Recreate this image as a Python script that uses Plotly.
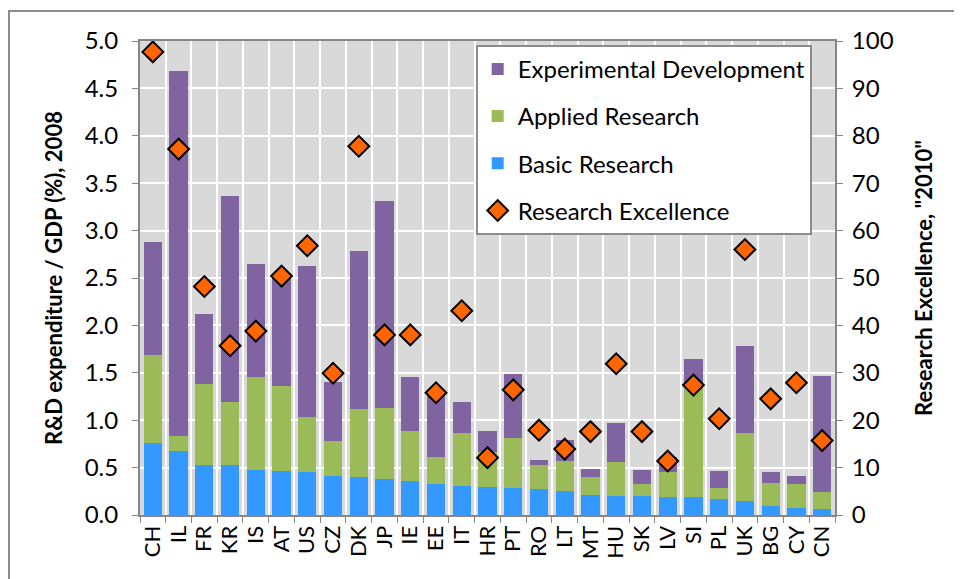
import plotly.graph_objects as go

countries = ["CH","IL","FR","KR","IS","AT","US","CZ","DK","JP","IE","EE","IT","HR",
             "PT","RO","LT","MT","HU","SK","LV","SI","PL","UK","BG","CY","CN"]
basic = [0.76,0.68,0.53,0.53,0.48,0.46,0.45,0.41,0.40,0.38,0.36,0.33,0.31,0.30,
         0.29,0.27,0.25,0.21,0.20,0.20,0.19,0.19,0.17,0.15,0.10,0.07,0.06]
applied_top = [1.69,0.83,1.38,1.19,1.46,1.36,1.03,0.78,1.12,1.13,0.89,0.61,0.86,0.66,
               0.81,0.53,0.57,0.40,0.56,0.33,0.45,1.40,0.28,0.87,0.34,0.33,0.24]
total = [2.88,4.68,2.12,3.36,2.65,2.52,2.63,1.40,2.79,3.31,1.46,1.31,1.19,0.89,
         1.49,0.58,0.79,0.49,0.97,0.47,0.61,1.65,0.46,1.78,0.45,0.41,1.47]
excellence = [97.7,77.2,48.2,35.7,38.8,50.4,56.8,29.9,77.8,38.0,38.0,25.8,43.1,12.1,
              26.4,17.9,13.9,17.6,31.9,17.6,11.4,27.4,20.3,56.0,24.5,27.9,15.7]

applied = [round(a - b, 3) for a, b in zip(applied_top, basic)]
experimental = [round(t - a, 3) for t, a in zip(total, applied_top)]

FONT = "Lato"
fig = go.Figure()
fig.add_trace(go.Bar(x=countries, y=basic, name="Basic Research",
                     marker=dict(color="#3399FF", line=dict(width=0)),
                     legendrank=3, legendgroup="c"))
fig.add_trace(go.Bar(x=countries, y=applied, name="Applied Research",
                     marker=dict(color="#9BBB59", line=dict(width=0)),
                     legendrank=2, legendgroup="b"))
fig.add_trace(go.Bar(x=countries, y=experimental, name="Experimental Development",
                     marker=dict(color="#8064A2", line=dict(width=0)),
                     legendrank=1, legendgroup="a"))
fig.add_trace(go.Scatter(x=countries, y=excellence, name="Research Excellence",
                         mode="markers", yaxis="y2",
                         marker=dict(symbol="diamond", size=16, color="#FF6600",
                                     line=dict(color="black", width=2)),
                         legendrank=4, legendgroup="d"))

fig.update_layout(
    width=962, height=579,
    margin=dict(l=132, r=135, t=33, b=72, autoexpand=False),
    paper_bgcolor="white", plot_bgcolor="#D9D9D9",
    barmode="stack", bargap=0.29,
    font=dict(family=FONT, size=24, color="black"),
    showlegend=True,
    legend=dict(x=0.483, y=0.992, xanchor="left", yanchor="top",
                bgcolor="white", bordercolor="#8C8C8C", borderwidth=2,
                font=dict(size=24), tracegroupgap=13, traceorder="grouped"),
    xaxis=dict(type="category", tickson="boundaries", showgrid=True, dtick=1,
               gridcolor="white", gridwidth=2, ticks="outside", ticklen=6,
               tickcolor="#868686", showline=True, linecolor="#868686",
               linewidth=2, mirror=True, tickangle=-90,
               tickfont=dict(size=22), range=[-0.5, 26.5]),
    yaxis=dict(range=[0, 5], dtick=0.5, tickformat=".1f", showgrid=True,
               gridcolor="white", gridwidth=2, ticks="outside", ticklen=6,
               tickcolor="#868686", showline=True, linecolor="#868686",
               linewidth=2, zeroline=False, tickfont=dict(size=24),
               ticklabelstandoff=9,
               title=dict(text="<b>R&D expenditure / GDP (%), 2008</b>",
                          font=dict(size=22), standoff=16)),
    yaxis2=dict(range=[0, 100], dtick=10, overlaying="y", side="right",
                showgrid=False, ticks="outside", ticklen=6, tickcolor="#868686",
                showline=True, linecolor="#868686", linewidth=2, zeroline=False,
                tickfont=dict(size=24), ticklabelstandoff=4,
                title=dict(text="<b>Research Excellence, \"2010\"</b>",
                           font=dict(size=22), standoff=24)),
    shapes=[dict(type="rect", xref="paper", yref="paper",
                 x0=-0.1885, x1=1.3, y0=-0.3, y1=1.0633,
                 line=dict(color="#8C8C8C", width=2), fillcolor="rgba(0,0,0,0)",
                 layer="below")],
)

fig.write_html("out.html")
